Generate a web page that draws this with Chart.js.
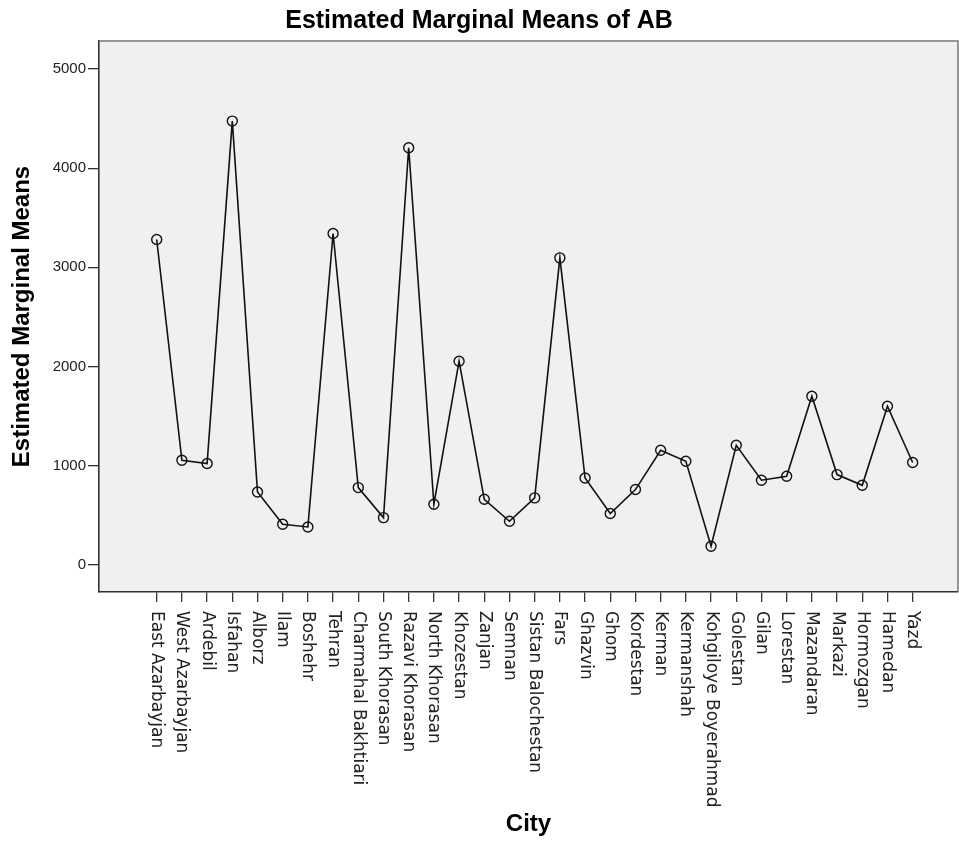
<!DOCTYPE html>
<html>
<head>
<meta charset="utf-8">
<title>Estimated Marginal Means of AB</title>
<script src="https://cdn.jsdelivr.net/npm/chart.js@4.4.1/dist/chart.umd.min.js"></script>
<style>
  html, body { margin: 0; padding: 0; background: #fff; overflow: hidden; }
  #wrap { width: 959px; height: 841px; position: relative; }
</style>
</head>
<body>
<div id="wrap"><canvas id="chart"></canvas></div>
<script>
    var cities = ['East Azarbayjan', 'West Azarbayjan', 'Ardebil', 'Isfahan', 'Alborz', 'Ilam',
        'Boshehr', 'Tehran', 'Charmahal Bakhtiari', 'South Khorasan', 'Razavi Khorasan',
        'North Khorasan', 'Khozestan', 'Zanjan', 'Semnan', 'Sistan Balochestan', 'Fars',
        'Ghazvin', 'Ghom', 'Kordestan', 'Kerman', 'Kermanshah', 'Kohgiloye Boyerahmad',
        'Golestan', 'Gilan', 'Lorestan', 'Mazandaran', 'Markazi', 'Hormozgan', 'Hamedan', 'Yazd'];
    var means = [3280, 1053, 1020, 4475, 733, 407, 380, 3341, 777, 474, 4206,
        609, 2052, 659, 437, 673, 3095, 874, 515, 757, 1154, 1043, 185,
        1204, 851, 891, 1699, 908, 800, 1598, 1030];
    var yTicks = [0, 1000, 2000, 3000, 4000, 5000];

    var axisColor = '#333';
    var sans = "'Liberation Sans', Arial, sans-serif";

    // grey plot box behind the line, thin frame on top and right
    var plotFrame = {
        id: 'plotFrame',
        beforeDraw: function (chart) {
            var a = chart.chartArea, ctx = chart.ctx;
            ctx.save();
            ctx.fillStyle = '#f0f0f0';
            ctx.fillRect(a.left, a.top, a.right - a.left, a.bottom - a.top);
            ctx.restore();
        },
        afterDraw: function (chart) {
            var a = chart.chartArea, ctx = chart.ctx;
            ctx.save();
            ctx.strokeStyle = '#777';
            ctx.lineWidth = 1.5;
            ctx.beginPath();
            ctx.moveTo(a.left, a.top);
            ctx.lineTo(a.right, a.top);
            ctx.lineTo(a.right, a.bottom);
            ctx.stroke();
            ctx.restore();
        }
    };

    // city names read top-to-bottom under each tick
    var cityLabels = {
        id: 'cityLabels',
        afterDraw: function (chart) {
            var xs = chart.scales.x, ctx = chart.ctx;
            ctx.save();
            ctx.font = "17px 'DejaVu Sans', sans-serif";
            ctx.fillStyle = '#222';
            ctx.textAlign = 'left';
            ctx.textBaseline = 'middle';
            cities.forEach(function (name, i) {
                ctx.save();
                ctx.translate(xs.getPixelForValue(i), xs.top + 19);
                ctx.rotate(Math.PI / 2);
                ctx.fillText(name, 0, 0);
                ctx.restore();
            });
            ctx.restore();
        }
    };

    var ctx = document.getElementById('chart').getContext('2d');
    window.emmChart = new Chart(ctx, {
        type: 'line',
        data: {
            datasets: [{
                data: means.map(function (v, i) { return {x: i, y: v}; }),
                borderColor: '#111',
                borderWidth: 1.6,
                tension: 0,
                pointRadius: 5,
                pointHoverRadius: 5,
                pointBorderWidth: 1.4,
                pointBorderColor: '#111',
                pointBackgroundColor: 'rgba(0,0,0,0)'
            }]
        },
        options: {
            responsive: true,
            maintainAspectRatio: false,
            animation: false,
            layout: {autoPadding: false, padding: {right: 1}},
            plugins: {
                legend: {display: false},
                tooltip: {enabled: false},
                title: {
                    display: true,
                    text: 'Estimated Marginal Means of AB',
                    color: '#000',
                    font: {family: sans, size: 25, weight: 'bold'},
                    padding: {top: 6, bottom: 5}
                }
            },
            scales: {
                x: {
                    type: 'linear',
                    min: -2.29,
                    max: 31.8,
                    afterBuildTicks: function (scale) {
                        scale.ticks = cities.map(function (c, i) { return {value: i}; });
                    },
                    afterFit: function (scale) { scale.height = 249; },
                    ticks: {display: false},
                    grid: {drawOnChartArea: false, drawTicks: true, tickLength: 10, color: axisColor, lineWidth: 1.3},
                    border: {display: true, color: axisColor, width: 1.6},
                    title: {
                        display: true,
                        text: 'City',
                        color: '#000',
                        font: {family: sans, size: 24, weight: 'bold'},
                        padding: {top: 0, bottom: 2}
                    }
                },
                y: {
                    min: -276.6,
                    max: 5283,
                    afterBuildTicks: function (scale) {
                        scale.ticks = yTicks.map(function (v) { return {value: v}; });
                    },
                    afterFit: function (scale) { scale.width = 99; },
                    ticks: {
                        color: '#222',
                        font: {family: sans, size: 15},
                        padding: 2,
                        callback: function (value) { return String(value); }
                    },
                    grid: {drawOnChartArea: false, drawTicks: true, tickLength: 11, color: axisColor, lineWidth: 1.3},
                    border: {display: true, color: axisColor, width: 1.6},
                    title: {
                        display: true,
                        text: 'Estimated Marginal Means',
                        color: '#000',
                        font: {family: sans, size: 24, weight: 'bold'},
                        padding: {top: 8, bottom: 0}
                    }
                }
            }
        },
        plugins: [plotFrame, cityLabels]
    });
</script>
</body>
</html>
